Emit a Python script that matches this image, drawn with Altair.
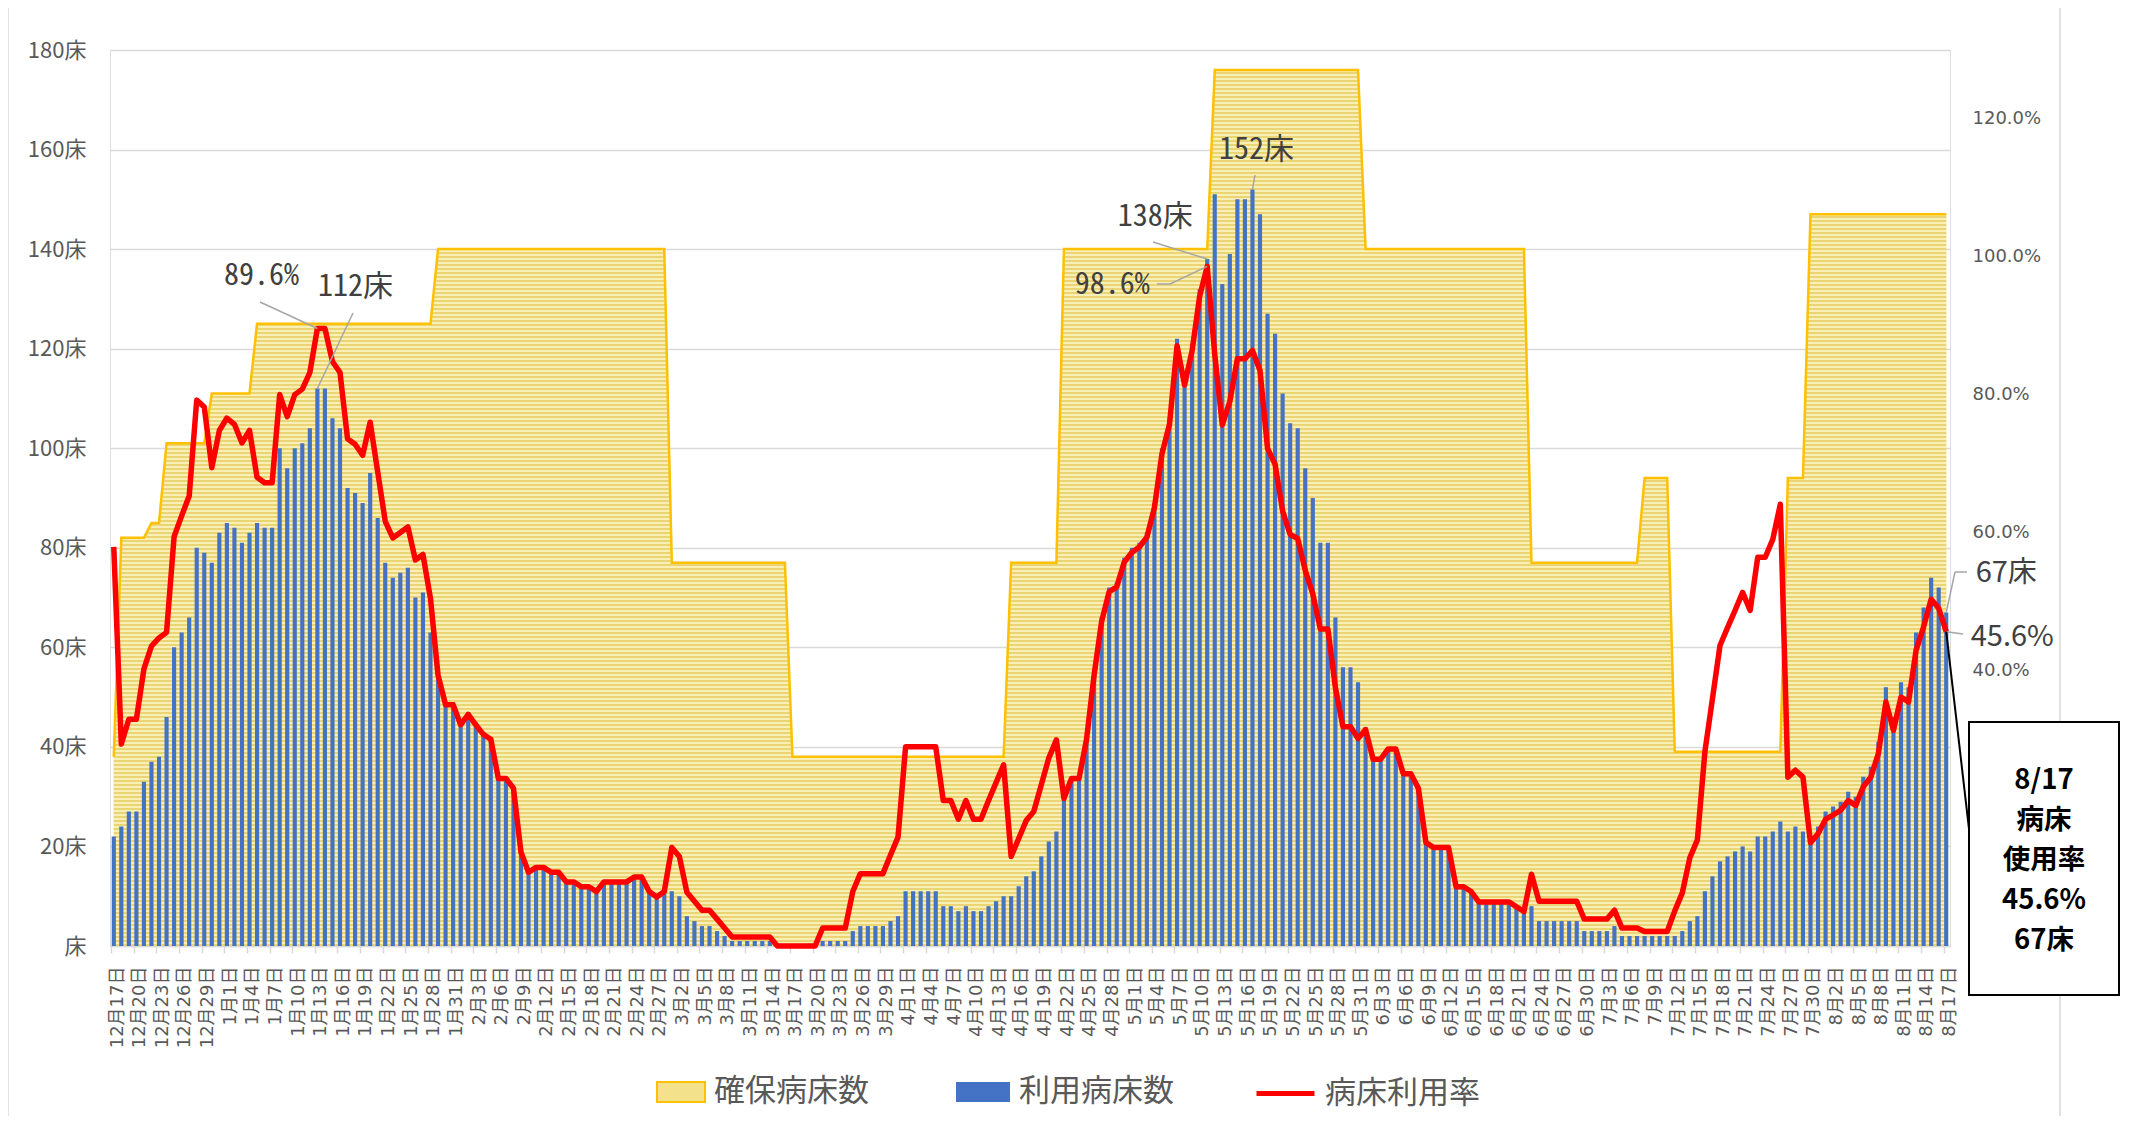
import altair as alt
import pandas as pd

# ---------------- data ----------------
dates = [f"{d.month}月{d.day}日" for d in pd.date_range("2020-12-17", "2021-08-17", freq="D")]
tick_dates = dates[::3]

capacity = [
    38, 82, 82, 82, 82, 85, 85, 101, 101, 101,
    101, 101, 101, 111, 111, 111, 111, 111, 111, 125,
    125, 125, 125, 125, 125, 125, 125, 125, 125, 125,
    125, 125, 125, 125, 125, 125, 125, 125, 125, 125,
    125, 125, 125, 140, 140, 140, 140, 140, 140, 140,
    140, 140, 140, 140, 140, 140, 140, 140, 140, 140,
    140, 140, 140, 140, 140, 140, 140, 140, 140, 140,
    140, 140, 140, 140, 77, 77, 77, 77, 77, 77,
    77, 77, 77, 77, 77, 77, 77, 77, 77, 77,
    38, 38, 38, 38, 38, 38, 38, 38, 38, 38,
    38, 38, 38, 38, 38, 38, 38, 38, 38, 38,
    38, 38, 38, 38, 38, 38, 38, 38, 38, 77,
    77, 77, 77, 77, 77, 77, 140, 140, 140, 140,
    140, 140, 140, 140, 140, 140, 140, 140, 140, 140,
    140, 140, 140, 140, 140, 140, 176, 176, 176, 176,
    176, 176, 176, 176, 176, 176, 176, 176, 176, 176,
    176, 176, 176, 176, 176, 176, 140, 140, 140, 140,
    140, 140, 140, 140, 140, 140, 140, 140, 140, 140,
    140, 140, 140, 140, 140, 140, 140, 140, 77, 77,
    77, 77, 77, 77, 77, 77, 77, 77, 77, 77,
    77, 77, 77, 94, 94, 94, 94, 39, 39, 39,
    39, 39, 39, 39, 39, 39, 39, 39, 39, 39,
    39, 39, 94, 94, 94, 147, 147, 147, 147, 147,
    147, 147, 147, 147, 147, 147, 147, 147, 147, 147,
    147, 147, 147, 147,
]

used = [
    22, 24, 27, 27, 33, 37, 38, 46, 60, 63,
    66, 80, 79, 77, 83, 85, 84, 81, 83, 85,
    84, 84, 100, 96, 100, 101, 104, 112, 112, 106,
    104, 92, 91, 89, 95, 86, 77, 74, 75, 76,
    70, 71, 63, 55, 49, 49, 45, 47, 45, 43,
    42, 34, 34, 32, 19, 15, 16, 16, 15, 15,
    13, 13, 12, 12, 11, 13, 13, 13, 13, 14,
    14, 11, 10, 11, 11, 10, 6, 5, 4, 4,
    3, 2, 1, 1, 1, 1, 1, 1, 0, 0,
    0, 0, 0, 0, 1, 1, 1, 1, 3, 4,
    4, 4, 4, 5, 6, 11, 11, 11, 11, 11,
    8, 8, 7, 8, 7, 7, 8, 9, 10, 10,
    12, 14, 15, 18, 21, 23, 30, 34, 34, 42,
    55, 66, 72, 73, 78, 80, 81, 83, 89, 100,
    106, 122, 114, 121, 132, 138, 151, 133, 139, 150,
    150, 152, 147, 127, 123, 111, 105, 104, 96, 90,
    81, 81, 66, 56, 56, 53, 44, 38, 38, 40,
    40, 35, 35, 32, 21, 20, 20, 20, 12, 12,
    11, 9, 9, 9, 9, 9, 8, 7, 8, 5,
    5, 5, 5, 5, 5, 3, 3, 3, 3, 4,
    2, 2, 2, 2, 2, 2, 2, 2, 3, 5,
    6, 11, 14, 17, 18, 19, 20, 19, 22, 22,
    23, 25, 23, 24, 23, 22, 24, 27, 28, 29,
    31, 30, 34, 36, 41, 52, 46, 53, 52, 63,
    68, 74, 72, 67,
]

rate = [
    57.9, 29.3, 32.9, 32.9, 40.2, 43.5, 44.7, 45.5, 59.4, 62.4,
    65.3, 79.2, 78.2, 69.4, 74.8, 76.6, 75.7, 73.0, 74.8, 68.0,
    67.2, 67.2, 80.0, 76.8, 80.0, 80.8, 83.2, 89.6, 89.6, 84.8,
    83.2, 73.6, 72.8, 71.2, 76.0, 68.8, 61.6, 59.2, 60.0, 60.8,
    56.0, 56.8, 50.4, 39.3, 35.0, 35.0, 32.1, 33.6, 32.1, 30.7,
    30.0, 24.3, 24.3, 22.9, 13.6, 10.7, 11.4, 11.4, 10.7, 10.7,
    9.3, 9.3, 8.6, 8.6, 7.9, 9.3, 9.3, 9.3, 9.3, 10.0,
    10.0, 7.9, 7.1, 7.9, 14.3, 13.0, 7.8, 6.5, 5.2, 5.2,
    3.9, 2.6, 1.3, 1.3, 1.3, 1.3, 1.3, 1.3, 0.0, 0.0,
    0.0, 0.0, 0.0, 0.0, 2.6, 2.6, 2.6, 2.6, 7.9, 10.5,
    10.5, 10.5, 10.5, 13.2, 15.8, 28.9, 28.9, 28.9, 28.9, 28.9,
    21.1, 21.1, 18.4, 21.1, 18.4, 18.4, 21.1, 23.7, 26.3, 13.0,
    15.6, 18.2, 19.5, 23.4, 27.3, 29.9, 21.4, 24.3, 24.3, 30.0,
    39.3, 47.1, 51.4, 52.1, 55.7, 57.1, 57.9, 59.3, 63.6, 71.4,
    75.7, 87.1, 81.4, 86.4, 94.3, 98.6, 85.8, 75.6, 79.0, 85.2,
    85.2, 86.4, 83.5, 72.2, 69.9, 63.1, 59.7, 59.1, 54.5, 51.1,
    46.0, 46.0, 37.5, 31.8, 31.8, 30.1, 31.4, 27.1, 27.1, 28.6,
    28.6, 25.0, 25.0, 22.9, 15.0, 14.3, 14.3, 14.3, 8.6, 8.6,
    7.9, 6.4, 6.4, 6.4, 6.4, 6.4, 5.7, 5.0, 10.4, 6.5,
    6.5, 6.5, 6.5, 6.5, 6.5, 3.9, 3.9, 3.9, 3.9, 5.2,
    2.6, 2.6, 2.6, 2.1, 2.1, 2.1, 2.1, 5.1, 7.7, 12.8,
    15.4, 28.2, 35.9, 43.6, 46.2, 48.7, 51.3, 48.7, 56.4, 56.4,
    59.0, 64.1, 24.5, 25.5, 24.5, 15.0, 16.3, 18.4, 19.0, 19.7,
    21.1, 20.4, 23.1, 24.5, 27.9, 35.4, 31.3, 36.1, 35.4, 42.9,
    46.3, 50.3, 49.0, 45.6,
]

series_names = ["確保病床数", "利用病床数", "病床利用率"]

df = pd.DataFrame({"date": dates, "cap": capacity, "used": used, "rate": rate})
df["s_cap"] = series_names[0]
df["s_used"] = series_names[1]
df["s_rate"] = series_names[2]

# ---------------- styling ----------------
PLOT_W, PLOT_H = 1840, 896
JP = "Noto Sans CJK JP"
MONO = "'Noto Sans Mono CJK JP', 'Noto Sans CJK JP'"
WIDE = "'DejaVu Sans', 'Noto Sans CJK JP'"
GRAY = "#595959"
GRID = "#D9D9D9"
YELLOW_EDGE = "#FFC000"
BLUE = "#4472C4"
RED = "#FF0000"
ANN = "#404040"
LEAD = "#A6A6A6"

# horizontal stripe pattern for the capacity area
LIGHT, DARK = "#FAF0B6", "#EAD473"
N_STRIPES = 219
stops = []
for k in range(N_STRIPES):
    a = k / N_STRIPES
    b = (k + 0.5) / N_STRIPES
    c = (k + 1) / N_STRIPES
    stops += [
        alt.GradientStop(offset=a, color=LIGHT),
        alt.GradientStop(offset=b, color=LIGHT),
        alt.GradientStop(offset=b, color=DARK),
        alt.GradientStop(offset=c, color=DARK),
    ]
stripe = alt.LinearGradient(gradient="linear", stops=stops, x1=0, x2=0, y1=0, y2=1)

x_scale = alt.Scale(domain=dates, paddingInner=0.45, paddingOuter=0.225)
x_axis = alt.Axis(
    values=tick_dates, labelAngle=-90, title=None, grid=False,
    domain=True, domainColor=GRID, domainWidth=1.5,
    ticks=True, tickColor=GRID, tickWidth=1.5, tickSize=7,
    bandPosition=0, labelOffset=3.77, labelPadding=13,
    labelFont=WIDE, labelFontSize=18, labelColor=GRAY, labelOverlap=False,
)
X = alt.X("date:N", scale=x_scale, axis=x_axis)

yl_scale = alt.Scale(domain=[0, 180], nice=False)
yl_axis = alt.Axis(
    values=list(range(0, 181, 20)),
    labelExpr="datum.value == 0 ? '床' : datum.value + '床'",
    title=None, orient="left", grid=True, gridColor=GRID, gridWidth=1.5,
    domain=False, ticks=False, labelPadding=24,
    labelFont=JP, labelFontSize=22, labelColor=GRAY,
)
yr_scale = alt.Scale(domain=[0, 130], nice=False)
yr_axis = alt.Axis(
    values=[40, 60, 80, 100, 120],
    labelExpr="format(datum.value, '.1f') + '%'",
    title=None, orient="right", grid=False, domain=False, ticks=False,
    labelPadding=22, labelFont="DejaVu Sans", labelFontSize=18, labelColor=GRAY,
)


def YL(field):
    return alt.Y(f"{field}:Q", scale=yl_scale, axis=yl_axis)


def YL_noaxis(field):
    return alt.Y(f"{field}:Q", scale=yl_scale, axis=None)


def YR(field):
    return alt.Y(f"{field}:Q", scale=yr_scale, axis=yr_axis)


def legend(lx, ly, symbol, size, **extra):
    return alt.Legend(
        title=None, orient="none", legendX=lx, legendY=ly, padding=0,
        symbolType=symbol, symbolSize=size,
        labelFont=JP, labelFontSize=31, labelColor=GRAY, labelOffset=8,
        **extra,
    )


# ---------------- main series ----------------
area_legend = alt.Chart(df).mark_area().encode(
    x=X, y=YL("cap"),
    color=alt.Color("s_cap:N", scale=alt.Scale(domain=[series_names[0]], range=["#F3E18C"]),
                    legend=legend(546, 1017, "M-1,-0.42H1V0.42H-1Z", 2304,
                                  symbolStrokeColor=YELLOW_EDGE, symbolStrokeWidth=2)),
)
area_pattern = alt.Chart(df).mark_area(fill=stripe, strokeWidth=0).encode(x=X, y=YL("cap"))
area_edge = alt.Chart(df).mark_line(color=YELLOW_EDGE, strokeWidth=2.5).encode(x=X, y=YL("cap"))
bars = alt.Chart(df).mark_bar().encode(
    x=X, y=YL("used"),
    color=alt.Color("s_used:N", scale=alt.Scale(domain=[series_names[1]], range=[BLUE]),
                    legend=legend(845, 1014, "M-1,-0.37H1V0.37H-1Z", 2916)),
)
left_group = alt.layer(area_legend, area_pattern, area_edge, bars).resolve_scale(color="independent")

line = alt.Chart(df).mark_line(strokeWidth=5.5, strokeJoin="round").encode(
    x=X, y=YR("rate"),
    color=alt.Color("s_rate:N", scale=alt.Scale(domain=[series_names[2]], range=[RED]),
                    legend=legend(1144, 1012, "stroke", 3364, symbolStrokeWidth=5)),
)


# ---------------- annotations ----------------
def one_point(i, values):
    return pd.DataFrame({"date": [dates[i]], "val": [values[i]]})


def ann_text(i, values, label, dx, dy, yfn, font, size=30):
    d = one_point(i, values)
    d["label"] = label
    return alt.Chart(d).mark_text(
        dx=dx, dy=dy, font=font, fontSize=size, color=ANN, align="center", baseline="middle"
    ).encode(x=X, y=yfn("val"), text="label:N")


def ann_rule(i, values, x2, y2, yfn, color=LEAD, width=1.5):
    return alt.Chart(one_point(i, values)).mark_rule(color=color, strokeWidth=width).encode(
        x=X, y=yfn("val"), x2=alt.value(x2), y2=alt.value(y2)
    )


one = pd.DataFrame({"k": [0]})


def px_rule(x1, y1, x2, y2, color=LEAD, width=1.5):
    return alt.Chart(one).mark_rule(color=color, strokeWidth=width).encode(
        x=alt.value(x1), y=alt.value(y1), x2=alt.value(x2), y2=alt.value(y2)
    )


i_a, i_b, i_c, i_last = 27, 145, 151, len(dates) - 1

ann_left = alt.layer(
    ann_rule(i_a, used, 243, 263, YL_noaxis),
    ann_rule(i_b, used, 1043, 192, YL_noaxis),
    ann_rule(i_c, used, 1145, 125, YL_noaxis),
    ann_rule(i_last, used, 1845, 522, YL_noaxis),
    px_rule(1845, 522, 1857, 522),
    ann_text(i_a, used, f"{used[i_a]}床", 38, -101, YL_noaxis, MONO),
    ann_text(i_b, used, f"{used[i_b]}床", -52, -42, YL_noaxis, MONO),
    ann_text(i_c, used, f"{used[i_c]}床", 4, -39, YL_noaxis, MONO),
    ann_text(i_last, used, f"{used[i_last]}床", 60, -39, YL_noaxis, JP, 29),
)

right_group = alt.layer(
    line,
    ann_rule(i_a, rate, 150, 252, YR),
    ann_rule(i_b, rate, 1060, 234, YR),
    px_rule(1060, 234, 1047, 234),
    ann_rule(i_last, rate, 1853, 584, YR),
    ann_rule(i_last, rate, 1862, 805, YR, color="black", width=2),
    ann_text(i_a, rate, f"{rate[i_a]:.1f}%", -56, -52, YR, MONO),
    ann_text(i_b, rate, f"{rate[i_b]:.1f}%", -95, 19, YR, MONO),
    ann_text(i_last, rate, f"{rate[i_last]:.1f}%", 66, 5, YR, JP, 29),
)

# callout box and chart frame
box_text = f"8/17\n病床\n使用率\n{rate[i_last]:.1f}%\n{used[i_last]}床"
decor = alt.layer(
    px_rule(-102, -50, -102, 1080, color=GRID, width=1.5),
    px_rule(1950, -50, 1950, 1080, color=GRID, width=1.5),
    alt.Chart(one).mark_rect(fill="white", stroke="black", strokeWidth=2).encode(
        x=alt.value(1859), x2=alt.value(2009), y=alt.value(672), y2=alt.value(945)
    ),
    alt.Chart(one).mark_text(
        text=box_text, lineBreak="\n", lineHeight=40, font=JP, fontSize=27.5,
        fontWeight="bold", color="black", align="center", baseline="middle",
    ).encode(x=alt.value(1934), y=alt.value(731)),
)

chart = (
    alt.layer(left_group, right_group, ann_left, decor)
    .resolve_scale(y="independent", color="independent")
    .properties(
        width=PLOT_W, height=PLOT_H,
        autosize=alt.AutoSizeParams(type="none"),
        padding={"left": 102, "top": 42, "right": 170, "bottom": 170},
    )
    .configure_view(strokeWidth=0)
    .configure(font=JP)
)

chart.save("out.html", embed_options={"renderer": "svg", "actions": False})
